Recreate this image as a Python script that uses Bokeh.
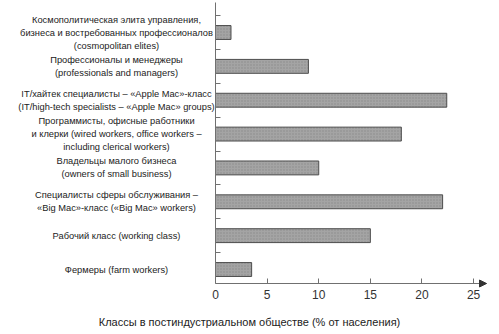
from bokeh.plotting import figure
from bokeh.models import (ColumnDataSource, Range1d, FixedTicker, LinearAxis,
                          Arrow, NormalHead)
from bokeh.core.properties import value
from bokeh.embed import file_html
from bokeh.resources import INLINE

categories = [
    "Космополитическая элита управления,\nбизнеса и востребованных профессионалов\n(cosmopolitan elites)",
    "Профессионалы и менеджеры\n(professionals and managers)",
    "IT/хайтек специалисты – «Apple Mac»-класс\n(IT/high-tech specialists – «Apple Mac» groups)",
    "Программисты, офисные работники\nи клерки (wired workers, office workers –\nincluding clerical workers)",
    "Владельцы малого бизнеса\n(owners of small business)",
    "Специалисты сферы обслуживания –\n«Big Mac»-класс («Big Mac» workers)",
    "Рабочий класс (working class)",
    "Фермеры (farm workers)",
]
values = [1.5, 9, 22.4, 18, 10, 22, 15, 3.5]
x_ticks = [0, 5, 10, 15, 20, 25]
x_title = "Классы в постиндустриальном обществе (% от населения)"

W, H = 499, 334
# pixel layout of the plotting area inside the canvas
ax_left_px, ax_right_px = 215, 486
ax_top_px, ax_bottom_px = 2, 283
x_max = 26.25
ppu = (ax_right_px - ax_left_px) / x_max          # px per % unit
first_px, step_px = 32, 33.86                      # category centre / spacing

def xd(px):
    return (px - ax_left_px) / ppu

def yd(py):
    return 1 + (py - first_px) / step_px

pos = list(range(1, len(categories) + 1))
y_axis_top, y_axis_bot = yd(ax_top_px), yd(ax_bottom_px)

font = "Liberation Sans"

p = figure(width=W, height=H, output_backend="svg", toolbar_location=None,
           x_range=Range1d(xd(0), xd(W)), y_range=Range1d(yd(H), yd(0)),
           x_axis_location=None, y_axis_location=None,
           min_border=0)
p.outline_line_color = None
p.xgrid.visible = False
p.ygrid.visible = False
p.background_fill_color = "white"
p.border_fill_color = "white"

src = ColumnDataSource(dict(y=pos, v=values, label=categories,
                            lx=[xd(116)] * len(pos)))
p.hbar(y="y", left=0, right="v", height=0.41, source=src,
       fill_color="#a4a4a4", line_color="#4d4d4d", line_width=1,
       hatch_pattern="dot", hatch_color="#8c8c8c", hatch_scale=3, hatch_weight=1)

# x axis
xa = LinearAxis(fixed_location=y_axis_bot, bounds=(0, x_max))
xa.ticker = FixedTicker(ticks=x_ticks)
xa.major_tick_in = 5
xa.major_tick_out = 0
xa.minor_tick_line_color = None
xa.axis_line_color = "#707070"
xa.major_tick_line_color = "#707070"
xa.major_label_text_font = font
xa.major_label_text_font_size = "12px"
xa.major_label_text_color = "#333333"
xa.major_label_standoff = 6
p.add_layout(xa, "below")

# y axis (ticks between categories, no labels)
ya = LinearAxis(fixed_location=0, bounds=(y_axis_top, y_axis_bot))
ya.ticker = FixedTicker(ticks=[i + 0.5 for i in range(0, len(pos))])
ya.major_tick_in = 5
ya.major_tick_out = 0
ya.minor_tick_line_color = None
ya.axis_line_color = "#707070"
ya.major_tick_line_color = "#707070"
ya.major_label_text_color = None
p.add_layout(ya, "left")

# arrow head at end of x axis
p.add_layout(Arrow(end=NormalHead(size=7, fill_color="#333333", line_color="#333333"),
                   x_start=x_max - 0.6, y_start=y_axis_bot, x_end=x_max, y_end=y_axis_bot,
                   line_color="#707070", line_width=1))

p.text(x="lx", y="y", text="label", source=src,
       text_align="center", text_baseline="middle",
       text_font=value(font), text_font_size="9.3px", text_color="#222222",
       text_line_height=1.3)

p.text(x=[xd(249)], y=[yd(321)], text=[x_title], text_align="center",
       text_baseline="middle", text_font=value(font), text_font_size="11px",
       text_color="#222222")

open("out.html", "w").write(file_html(p, INLINE))
